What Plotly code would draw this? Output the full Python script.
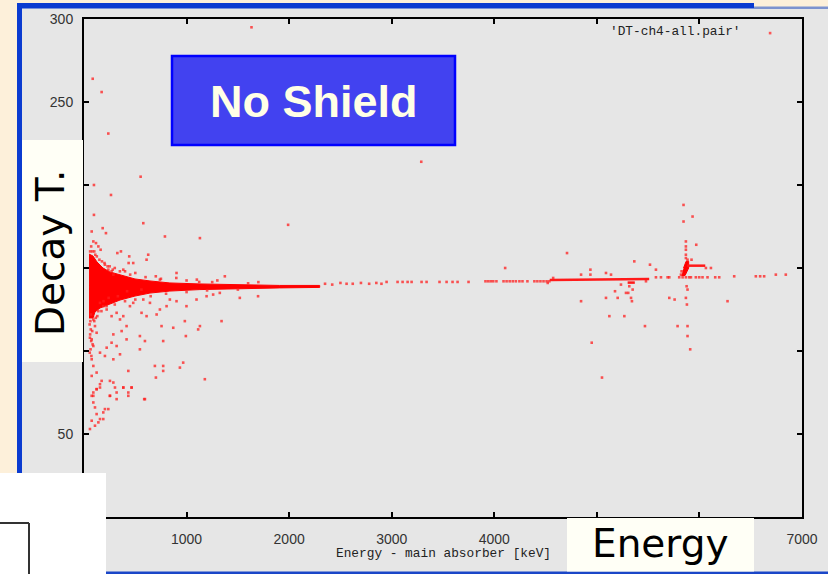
import plotly.graph_objects as go

# ---------------- data (energy in keV, decay time in arbitrary units) ----------------
# outline of the saturated low-energy core of the distribution
core_points = [
    (49, 158.4), (88, 157.2), (127, 153.6), (185, 150.0), (253, 147.6), (351, 145.8),
    (497, 143.4), (643, 142.2), (837, 141.0), (1130, 140.4), (1519, 139.8), (1908, 139.5),
    (2298, 139.5), (2298, 138.3), (1908, 138.0), (1519, 137.6), (1130, 137.0), (837, 136.1),
    (643, 134.9), (497, 133.1), (351, 130.7), (253, 128.3), (156, 125.9), (107, 123.5),
    (88, 119.9), (49, 119.9),
]
# small dense blob at the ~5.87 MeV line
blob_points = [(5826, 145.5), (5860, 145.5), (5895, 150.0), (5895, 154.0), (5870, 154.0), (5845, 150.0)]

# continuous streaks (start, end)
streaks = [
    ((4540, 142.8), (5510, 143.4)),
    ((5300, 141.2), (5370, 141.2)),
    ((5880, 151.4), (6057, 151.4)),
]

# scattered events below 2 MeV
low_points = [
    (97, 182), (75, 172), (182, 174), (214, 171), (578, 177), (789, 169), (1130, 168), (1990, 176),
    (626, 158), (610, 155), (902, 147), (1373, 145), (1123, 141.6), (325, 159), (360, 160), (441, 157),
    (480, 153), (435, 153), (91, 166), (117, 165), (140, 163), (162, 161), (204, 152), (237, 149),
    (269, 148), (286, 146), (383, 149), (740, 143),
    (68, 122), (91, 119), (107, 115), (123, 111), (75, 107), (91, 103), (156, 129), (188, 127),
    (221, 125), (269, 121), (318, 123), (351, 119), (383, 121), (415, 115), (367, 112), (286, 110),
    (269, 105), (415, 107), (318, 103), (221, 102), (156, 99), (204, 97), (286, 95), (351, 98),
    (448, 127), (480, 129), (561, 123), (610, 121), (578, 131), (643, 129), (740, 125), (805, 127),
    (837, 131), (902, 130), (999, 127), (1097, 131), (1195, 133), (1259, 134), (1324, 135), (1519, 132),
    (1697, 133), (708, 122), (756, 115), (870, 114), (983, 118), (1113, 113), (1130, 115), (1341, 118),
    (993, 109), (772, 106), (594, 106), (545, 109), (545, 101), (691, 91), (772, 91), (967, 93),
    (935, 90), (701, 84), (1178, 83), (772, 88), (432, 88), (75, 95), (91, 91), (123, 87),
    (75, 85), (172, 82), (156, 78), (91, 73), (123, 77), (253, 82), (286, 81), (318, 75),
    (383, 78), (464, 78), (432, 75), (253, 73), (594, 71),
    (75, 73), (91, 69), (107, 66), (123, 62), (75, 58), (58, 53), (140, 57), (156, 59),
    (188, 63), (204, 65), (237, 65), (253, 73), (302, 78), (383, 78), (432, 73), (464, 78),
    (587, 71), (318, 71), (156, 80), (123, 77), (107, 55), (188, 59), (91, 75),
    (85, 264), (172, 256), (237, 231), (97, 200), (263, 194), (552, 205), (1633, 295),
    (60, 160), (70, 163), (110, 158), (150, 155), (200, 153), (250, 151), (300, 150), (400, 148),
    (500, 147), (700, 145), (900, 144), (1100, 143), (1300, 142.5), (1700, 141.5),
    (130, 121), (170, 124), (220, 127), (300, 128), (400, 130), (500, 131), (650, 133),
    (800, 134.5), (1000, 135.5), (1200, 136.5), (1500, 137),
    (62, 118), (66, 113), (60, 110), (70, 106), (64, 101), (72, 97),
    (55, 116), (58, 108), (56, 99), (80, 112), (84, 104), (100, 118), (115, 120), (140, 124),
    (190, 130), (240, 132), (330, 133), (420, 136), (560, 137), (80, 160), (100, 160),
    (125, 157), (175, 154), (230, 151), (280, 149), (350, 148), (450, 146), (600, 144.5),
    (750, 143.5), (1000, 142.5), (1250, 141.5), (1600, 140.8),
]

# sparse events along the main decay-time band, 2-4.6 MeV
band_points = [
    (2350, 140.5), (2420, 140.0), (2500, 141.0), (2560, 140.5), (2620, 140.5), (2700, 141.0),
    (2780, 140.5), (2850, 141.0), (2900, 140.5), (2950, 141.6), (3057, 141.6), (3106, 141.6),
    (3155, 141.6), (3194, 141.6), (3291, 141.6), (3340, 141.6), (3466, 141.6), (3535, 141.6),
    (3593, 141.6), (3642, 141.6), (3749, 141.6),
    (3914, 142), (3940, 142), (3965, 142), (3990, 142), (4021, 142),
    (4090, 142), (4120, 142), (4150, 142), (4180, 142), (4210, 142), (4245, 142), (4275, 142),
    (4323, 142), (4391, 142), (4420, 142), (4450, 142), (4480, 142), (4510, 142), (4537, 142),
    (3288, 214), (4106, 150), (4521, 141), (4574, 144),
]

# events around the alpha lines, 4.7-6.9 MeV
peak_points = [
    (4709, 159), (5365, 154), (5518, 152), (5576, 149), (5122, 121), (5268, 121), (5469, 115),
    (4846, 130), (5089, 132), (5203, 132), (5177, 136), (5316, 139), (5349, 137), (5333, 132),
    (5342, 130), (5284, 135), (5306, 135), (5235, 140), (4937, 149), (4937, 146), (4846, 146),
    (5089, 147), (5138, 146), (5050, 84), (4950, 105), (5706, 132), (5758, 131), (5787, 115),
    (5884, 115), (5884, 109), (5910, 101), (5875, 139), (5884, 137), (5868, 132), (5878, 128),
    (6274, 130), (5845, 188), (5933, 181), (5845, 178), (5868, 166), (5969, 164), (5868, 163),
    (5868, 161), (5868, 158), (5868, 156), (5884, 155), (5923, 155), (5826, 148), (5820, 146),
    (6063, 150), (6112, 150), (5479, 142),
    (5576, 144.4), (5625, 144.4), (5690, 144.4), (5706, 144.4), (5803, 144.4), (5836, 144.4),
    (5868, 144.4), (5900, 144.4), (5917, 144.4), (5965, 144.4), (5998, 144.4), (6030, 144.4),
    (6079, 144.4), (6154, 144.4), (6193, 144.4), (6339, 145), (6550, 145), (6592, 145),
    (6631, 145), (6745, 146), (6842, 146),
]

x_ticks = [0, 1000, 2000, 3000, 4000, 5000, 6000, 7000]
x_labels = ["", "1000", "2000", "3000", "4000", "", "", "7000"]
y_ticks = [0, 50, 100, 150, 200, 250, 300]
y_labels = ["", "50", "", "", "", "250", "300"]

# ---------------- geometry helpers (pixel -> paper) ----------------
W, H = 828, 574
L, R, T, B = 84, 802, 19, 517


def px(x):
    return (x - L) / (R - L)


def py(y):
    return (B - y) / (B - T)


def rect(x0, y0, x1, y1, fill, line_color=None, lw=0, layer="above"):
    return dict(type="rect", xref="paper", yref="paper",
                x0=px(x0), x1=px(x1), y0=py(y1), y1=py(y0),
                fillcolor=fill, layer=layer,
                line=dict(width=lw, color=line_color or fill))


def seg(x0, y0, x1, y1, color, lw):
    return dict(type="line", xref="paper", yref="paper",
                x0=px(x0), x1=px(x1), y0=py(y0), y1=py(y1),
                line=dict(width=lw, color=color), layer="above")


def ann(text, x, y, font, xanchor="center", angle=0):
    return dict(text=text, x=px(x), y=py(y), xref="paper", yref="paper",
                showarrow=False, xanchor=xanchor, yanchor="middle",
                textangle=angle, font=font)


# ---------------- traces ----------------
def split(points):
    return [p[0] for p in points], [p[1] for p in points]


fig = go.Figure()

fill_e, fill_t = split(core_points)
be, bt = split(blob_points)
fill_e += [None] + be
fill_t += [None] + bt
fig.add_trace(go.Scatter(x=fill_e, y=fill_t, mode="lines", fill="toself",
                         fillcolor="#ff0000", line=dict(color="#ff0000", width=1),
                         hoverinfo="skip"))

st_e, st_t = [], []
for (a, b) in streaks:
    st_e += [a[0], b[0], None]
    st_t += [a[1], b[1], None]
fig.add_trace(go.Scatter(x=st_e, y=st_t, mode="lines",
                         line=dict(color="#ff1a1a", width=2.5), hoverinfo="skip"))

pe, pt = split(low_points + band_points + peak_points)
fig.add_trace(go.Scatter(x=pe, y=pt, mode="markers",
                         marker=dict(symbol="square", size=2.6, color="rgba(255,30,30,0.75)",
                                     line=dict(width=0)),
                         hoverinfo="skip"))

tick_font = dict(family="Liberation Sans, Arial, sans-serif", size=14, color="#333333")
mono = dict(family="Liberation Mono, DejaVu Sans Mono, monospace", size=12.8, color="#222222")

axis_common = dict(showgrid=False, zeroline=False, showline=True, linecolor="black",
                   linewidth=2, mirror="ticks", ticks="inside", ticklen=5, tickwidth=2,
                   tickcolor="black", tickfont=tick_font)

shapes = [
    # window body
    rect(21, 8, W, 572, "#e6e6e6", layer="below"),
    # window frame
    rect(17, 3, 754, 8.5, "#0b3bd0"),
    rect(754, 6.5, W, 9, "#7d93cf"),
    rect(17, 3, 22, 473, "#0b3bd0"),
    rect(106, 571.5, W, 574, "#1a46c8"),
    # pasted boxes
    rect(0, 473, 106, 574, "#ffffff"),
    seg(0, 523, 29, 523, "#333333", 2),
    seg(29, 523, 29, 574, "#333333", 2),
    rect(22, 140, 83, 362, "#fffff6"),
    rect(567, 518, 754, 571.5, "#fffff6"),
    rect(172, 56, 455, 145, "rgb(66,66,240)", "#0000ff", 2.5),
    # key sample
    rect(768.8, 31.8, 771.4, 34.4, "rgba(255,60,60,0.85)"),
]

annotations = [
    ann("<b>No Shield</b>", 313.5, 102,
        dict(family="Liberation Sans, Arial, sans-serif", size=45, color="#ffffe6")),
    ann("Decay T.", 51, 253,
        dict(family="DejaVu Sans, Verdana, sans-serif", size=39, color="black"), angle=-90),
    ann("Energy", 660, 543,
        dict(family="DejaVu Sans, Verdana, sans-serif", size=39, color="black")),
    ann("'DT-ch4-all.pair'", 743, 32, mono, xanchor="right"),
    ann("Energy - main absorber [keV]", 443, 553, mono),
]

fig.update_layout(
    template="none",
    width=W, height=H,
    margin=dict(l=L, r=W - R, t=T, b=H - B, pad=0),
    paper_bgcolor="#fdf0da",
    plot_bgcolor="#e6e6e6",
    showlegend=False,
    xaxis=dict(range=[0, 7000], tickvals=x_ticks, ticktext=x_labels,
               ticklabelstandoff=8, **axis_common),
    yaxis=dict(range=[0, 300], tickvals=y_ticks, ticktext=y_labels,
               ticklabelstandoff=6, **axis_common),
    shapes=shapes,
    annotations=annotations,
)

fig.write_html("out.html")
